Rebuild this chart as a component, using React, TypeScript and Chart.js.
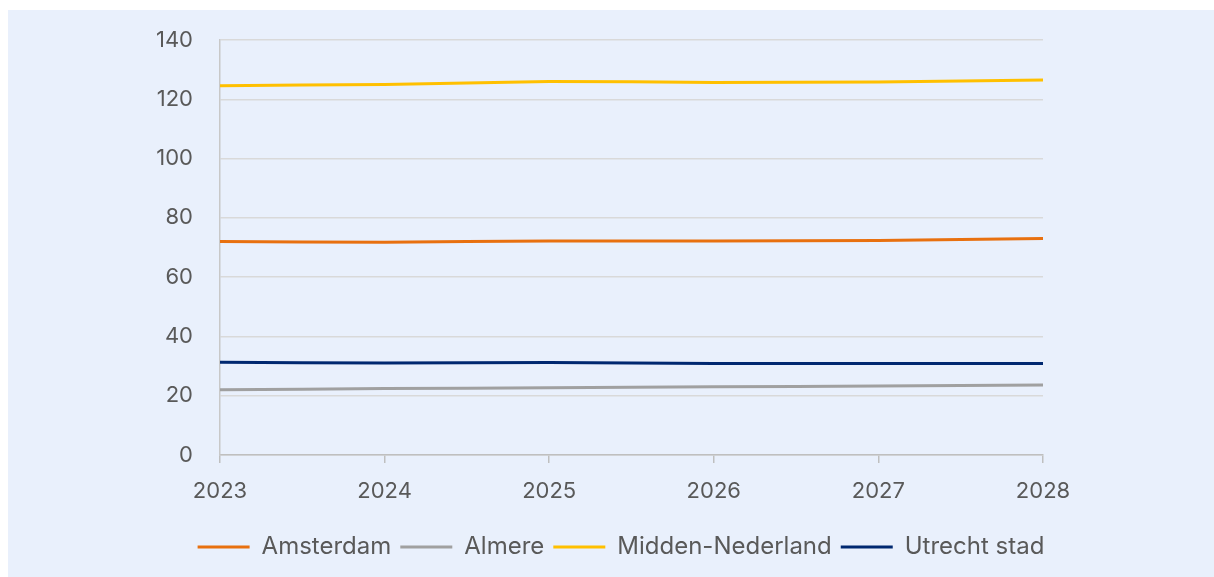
import React, { useEffect, useRef } from "react";
import { Chart, registerables } from "chart.js";

Chart.register(...registerables);

const years = ["2023", "2024", "2025", "2026", "2027", "2028"];
const amsterdam = [72.0, 71.8, 72.2, 72.2, 72.4, 73.0];
const almere = [22.0, 22.4, 22.7, 23.0, 23.3, 23.6];
const middenNederland = [124.6, 125.0, 126.0, 125.7, 125.8, 126.5];
const utrechtStad = [31.3, 31.0, 31.2, 30.9, 30.9, 30.9];

const FONT = "Inter, 'Noto Sans', sans-serif";
const TEXT = "#595959";

export default function App() {
  const ref = useRef<HTMLCanvasElement | null>(null);
  useEffect(() => {
    if (!ref.current) return;
    const mk = (label: string, data: number[], color: string) => ({
      label,
      data,
      borderColor: color,
      backgroundColor: color,
      borderWidth: 3,
      pointRadius: 0,
      tension: 0.2,
      fill: false,
    });
    const chart = new Chart(ref.current, {
      type: "line",
      data: {
        labels: years,
        datasets: [
          mk("Amsterdam", amsterdam, "#E8700F"),
          mk("Almere", almere, "#A0A0A0"),
          mk("Midden-Nederland", middenNederland, "#FFC000"),
          mk("Utrecht stad", utrechtStad, "#002870"),
        ],
      },
      options: {
        animation: false,
        responsive: true,
        maintainAspectRatio: false,
        layout: { padding: { left: 20, right: 0, top: 30, bottom: 8 } },
        plugins: {
          tooltip: { enabled: false },
          legend: {
            position: "bottom",
            labels: {
              color: TEXT,
              font: { family: FONT, size: 24 },
              boxWidth: 52,
              boxHeight: 3,
              padding: 9,
              generateLabels: (c: any) =>
                Chart.defaults.plugins.legend.labels
                  .generateLabels(c)
                  .map((l: any) => ({ ...l, lineWidth: 0 })),
            },
          },
        },
        scales: {
          x: {
            offset: false,
            grid: {
              drawOnChartArea: false,
              drawTicks: true,
              tickLength: 8,
              color: "#BFBFBF",
              lineWidth: 1.5,
            },
            border: { color: "#BFBFBF", width: 1.5 },
            ticks: {
              color: TEXT,
              font: { family: FONT, size: 22 },
              padding: 15,
              maxRotation: 0,
            },
            afterFit: (s: any) => {
              s.height = 71;
            },
          },
          y: {
            min: 0,
            max: 140,
            grid: { color: "#D9D9D9", lineWidth: 1.5, drawTicks: false },
            border: { color: "#C8C8C8", width: 1.5 },
            ticks: {
              stepSize: 20,
              color: TEXT,
              font: { family: FONT, size: 22 },
              padding: 27,
            },
            afterFit: (s: any) => {
              s.width = 192;
              s.paddingTop = 0;
              s.paddingBottom = 0;
            },
          },
          y2: {
            position: "right",
            display: true,
            grid: { display: false },
            border: { display: false },
            ticks: { display: false },
            afterFit: (s: any) => {
              s.width = 171;
              s.paddingTop = 0;
              s.paddingBottom = 0;
            },
          },
        },
      },
    } as any);
    return () => chart.destroy();
  }, []);
  return (
    <div
      style={{
        position: "fixed",
        left: 8,
        top: 10,
        width: 1206,
        height: 567,
        background: "#E9F0FC",
      }}
    >
      <canvas ref={ref} />
    </div>
  );
}
